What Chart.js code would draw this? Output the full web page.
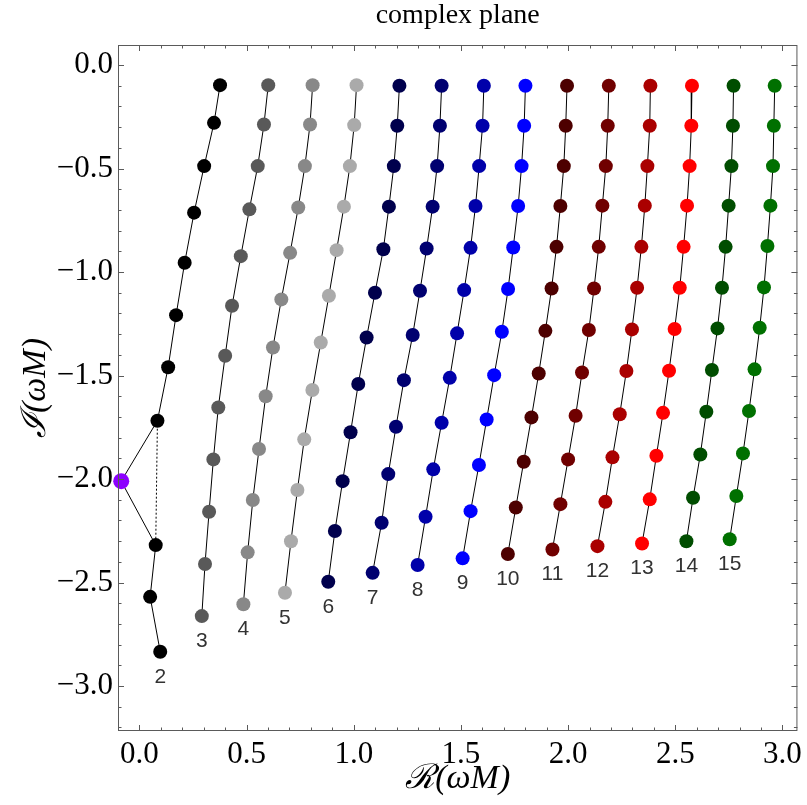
<!DOCTYPE html>
<html>
<head>
<meta charset="utf-8">
<script src="https://cdn.jsdelivr.net/npm/chart.js@4.4.1/dist/chart.umd.min.js"></script>
<style>
    html, body { margin: 0; padding: 0; background: #fff; }
    #wrap { width: 807px; height: 805px; }
</style>
</head>
<body>
<div id="wrap"><canvas id="chart-0"></canvas></div>
<script>
// overtone sequences, one entry per multipole number
var modes = ['2', '3', '4', '5', '6', '7', '8', '9', '10', '11', '12', '13', '14', '15'];

var reOmega = [
    [0.376, 0.348, 0.302, 0.255, 0.211, 0.171, 0.134, 0.084, 0.076, 0.050, 0.097],
    [0.601, 0.581, 0.552, 0.513, 0.473, 0.432, 0.400, 0.368, 0.345, 0.325, 0.306, 0.291],
    [0.808, 0.796, 0.772, 0.741, 0.703, 0.662, 0.623, 0.589, 0.558, 0.529, 0.505, 0.485],
    [1.013, 1.002, 0.982, 0.954, 0.920, 0.884, 0.846, 0.807, 0.769, 0.737, 0.707, 0.679],
    [1.213, 1.203, 1.187, 1.164, 1.138, 1.099, 1.060, 1.021, 0.985, 0.948, 0.912, 0.881],
    [1.410, 1.402, 1.389, 1.368, 1.340, 1.309, 1.275, 1.234, 1.197, 1.161, 1.130, 1.088],
    [1.607, 1.601, 1.585, 1.568, 1.545, 1.515, 1.482, 1.448, 1.410, 1.371, 1.335, 1.298],
    [1.801, 1.795, 1.783, 1.767, 1.744, 1.720, 1.691, 1.655, 1.620, 1.584, 1.545, 1.508],
    [1.995, 1.989, 1.980, 1.964, 1.946, 1.923, 1.894, 1.863, 1.829, 1.793, 1.756, 1.719],
    [2.190, 2.185, 2.176, 2.160, 2.143, 2.121, 2.097, 2.065, 2.035, 2.000, 1.964, 1.927],
    [2.384, 2.381, 2.370, 2.358, 2.342, 2.322, 2.298, 2.272, 2.241, 2.207, 2.174, 2.137],
    [2.578, 2.575, 2.567, 2.555, 2.539, 2.521, 2.497, 2.471, 2.443, 2.412, 2.381, 2.345],
    [2.772, 2.769, 2.762, 2.749, 2.735, 2.718, 2.697, 2.671, 2.645, 2.617, 2.583, 2.552],
    [2.964, 2.960, 2.956, 2.944, 2.930, 2.914, 2.894, 2.870, 2.844, 2.816, 2.785, 2.754]
];

var imOmega = [
    [-0.097, -0.279, -0.488, -0.713, -0.955, -1.208, -1.460, -1.718, -2.319, -2.569, -2.834],
    [-0.097, -0.287, -0.488, -0.697, -0.923, -1.163, -1.404, -1.654, -1.905, -2.158, -2.410, -2.662],
    [-0.097, -0.287, -0.488, -0.688, -0.907, -1.132, -1.364, -1.600, -1.855, -2.101, -2.354, -2.605],
    [-0.097, -0.290, -0.488, -0.684, -0.894, -1.114, -1.340, -1.570, -1.808, -2.053, -2.300, -2.549],
    [-0.100, -0.293, -0.488, -0.684, -0.890, -1.100, -1.316, -1.541, -1.774, -2.010, -2.251, -2.496],
    [-0.100, -0.293, -0.488, -0.684, -0.886, -1.090, -1.304, -1.522, -1.747, -1.976, -2.211, -2.453],
    [-0.100, -0.293, -0.488, -0.681, -0.883, -1.087, -1.296, -1.511, -1.728, -1.953, -2.182, -2.415],
    [-0.100, -0.293, -0.488, -0.681, -0.881, -1.082, -1.288, -1.498, -1.712, -1.932, -2.155, -2.383],
    [-0.100, -0.293, -0.488, -0.681, -0.878, -1.079, -1.284, -1.490, -1.702, -1.916, -2.137, -2.362],
    [-0.100, -0.293, -0.488, -0.679, -0.878, -1.079, -1.280, -1.485, -1.694, -1.905, -2.121, -2.340],
    [-0.100, -0.293, -0.488, -0.679, -0.878, -1.076, -1.277, -1.478, -1.687, -1.895, -2.110, -2.324],
    [-0.100, -0.293, -0.488, -0.679, -0.878, -1.076, -1.275, -1.477, -1.680, -1.887, -2.098, -2.311],
    [-0.100, -0.293, -0.488, -0.679, -0.878, -1.076, -1.272, -1.473, -1.675, -1.881, -2.090, -2.300],
    [-0.100, -0.293, -0.488, -0.679, -0.874, -1.074, -1.269, -1.470, -1.671, -1.876, -2.082, -2.291]
];

// the special point on the l=2 branch (purple), sits between overtones 8 and 9
var specialRe = -0.085;
var specialIm = -2.010;
var specialIndex = 8;

var colors = [
    "rgb(0, 0, 0)", "rgb(89, 89, 89)", "rgb(136, 136, 136)", "rgb(170, 170, 170)",
    "rgb(0, 0, 77)", "rgb(0, 0, 112)", "rgb(0, 0, 170)", "rgb(0, 0, 255)",
    "rgb(77, 0, 0)", "rgb(112, 0, 0)", "rgb(170, 0, 0)", "rgb(255, 0, 0)",
    "rgb(0, 77, 0)", "rgb(0, 112, 0)"
];
var specialColor = "rgb(140, 0, 255)";

var datasets = modes.map(function (m, i) {
    var pts = reOmega[i].map(function (x, j) { return { x: x, y: imOmega[i][j] }; });
    var isFirst = (i === 0);
    if (isFirst) {
        pts.splice(specialIndex, 0, { x: specialRe, y: specialIm });
    }
    return {
        label: m,
        data: pts,
        showLine: true,
        borderColor: "rgb(0, 0, 0)",
        borderWidth: 1,
        tension: 0,
        clip: false,
        pointBorderWidth: 0,
        pointRadius: function (c) { return (isFirst && c.dataIndex === specialIndex) ? 8 : 7; },
        pointBackgroundColor: function (c) { return (isFirst && c.dataIndex === specialIndex) ? specialColor : colors[i]; }
    };
});

// dotted link across the special point
var first = datasets[0].data;
datasets.push({
    label: 'link',
    data: [first[specialIndex - 1], first[specialIndex + 1]],
    showLine: true,
    borderColor: "rgb(0, 0, 0)",
    borderWidth: 1,
    borderDash: [2, 2],
    pointRadius: 0
});

var serif = "'Liberation Serif', 'Times New Roman', serif";

function fmt(v) {
    var s = Math.abs(v).toFixed(1);
    return v < -1e-9 ? '\u2212' + s : s;
}

var framePlugin = {
    id: 'frame',
    afterDraw: function (chart) {
        var ctx = chart.ctx, a = chart.chartArea;
        var xs = chart.scales.x, ys = chart.scales.y;
        ctx.save();
        ctx.strokeStyle = "rgb(90, 90, 90)";
        ctx.lineWidth = 1;
        ctx.strokeRect(a.left + 0.5, a.top + 0.5, a.right - a.left - 1, a.bottom - a.top - 1);
        ctx.beginPath();
        var k, p, len;
        for (k = -1; k <= 30; k++) {
            p = Math.round(xs.getPixelForValue(k / 10)) + 0.5;
            len = (k % 5 === 0) ? 6 : 3.5;
            ctx.moveTo(p, a.bottom); ctx.lineTo(p, a.bottom - len);
            ctx.moveTo(p, a.top); ctx.lineTo(p, a.top + len);
        }
        for (k = -32; k <= 0; k++) {
            p = Math.round(ys.getPixelForValue(k / 10)) + 0.5;
            len = (k % 5 === 0) ? 6 : 3.5;
            ctx.moveTo(a.left, p); ctx.lineTo(a.left + len, p);
            ctx.moveTo(a.right, p); ctx.lineTo(a.right - len, p);
        }
        ctx.stroke();

        // plot title, centred over the frame
        ctx.fillStyle = "rgb(0, 0, 0)";
        ctx.font = "28px " + serif;
        ctx.textAlign = 'center';
        ctx.textBaseline = 'middle';
        ctx.fillText('complex plane', (a.left + a.right) / 2, 16);
        ctx.restore();
    },
    afterDatasetsDraw: function (chart) {
        var ctx = chart.ctx;
        ctx.save();
        ctx.fillStyle = "rgb(50, 50, 50)";
        ctx.font = "21px 'Liberation Sans', Arial, sans-serif";
        ctx.textAlign = 'center';
        ctx.textBaseline = 'middle';
        modes.forEach(function (m, i) {
            var pts = chart.getDatasetMeta(i).data;
            var last = pts[pts.length - 1];
            ctx.fillText(m, last.x, last.y + 25);
        });
        ctx.restore();
    }
};

window.onload = function () {
    var ctx = document.getElementById("chart-0").getContext("2d");
    var myChart = new Chart(ctx, {
        type: 'scatter',
        data: { datasets: datasets },
        options: {
            responsive: true,
            maintainAspectRatio: false,
            animation: false,
            layout: { padding: { left: 0, right: 9, top: 45, bottom: 0 } },
            plugins: {
                legend: { display: false },
                tooltip: { enabled: false },
                title: { display: false }
            },
            scales: {
                x: {
                    type: 'linear',
                    min: -0.1,
                    max: 3.07,
                    grid: { display: false, drawTicks: false },
                    border: { display: false },
                    ticks: {
                        stepSize: 0.5,
                        includeBounds: false,
                        autoSkip: false,
                        maxRotation: 0,
                        padding: 5,
                        color: "rgb(0, 0, 0)",
                        font: { family: serif, size: 31 },
                        callback: fmt
                    },
                    title: {
                        display: true,
                        text: '\u211B(\u03C9M)',
                        color: "rgb(0, 0, 0)",
                        font: { family: serif, size: 34, style: 'italic' },
                        padding: { top: 0, bottom: 6 }
                    },
                    afterFit: function (s) { s.height = 74; }
                },
                y: {
                    type: 'linear',
                    min: -3.217,
                    max: 0.097,
                    grid: { display: false, drawTicks: false },
                    border: { display: false },
                    ticks: {
                        stepSize: 0.5,
                        includeBounds: false,
                        autoSkip: false,
                        padding: 5,
                        color: "rgb(0, 0, 0)",
                        font: { family: serif, size: 31 },
                        callback: fmt
                    },
                    title: {
                        display: true,
                        text: '\u2110(\u03C9M)',
                        color: "rgb(0, 0, 0)",
                        font: { family: serif, size: 34, style: 'italic' },
                        padding: { top: 16, bottom: 0 }
                    },
                    afterFit: function (s) { s.width = 118; }
                }
            }
        },
        plugins: [framePlugin]
    });
};
</script>
</body>
</html>
